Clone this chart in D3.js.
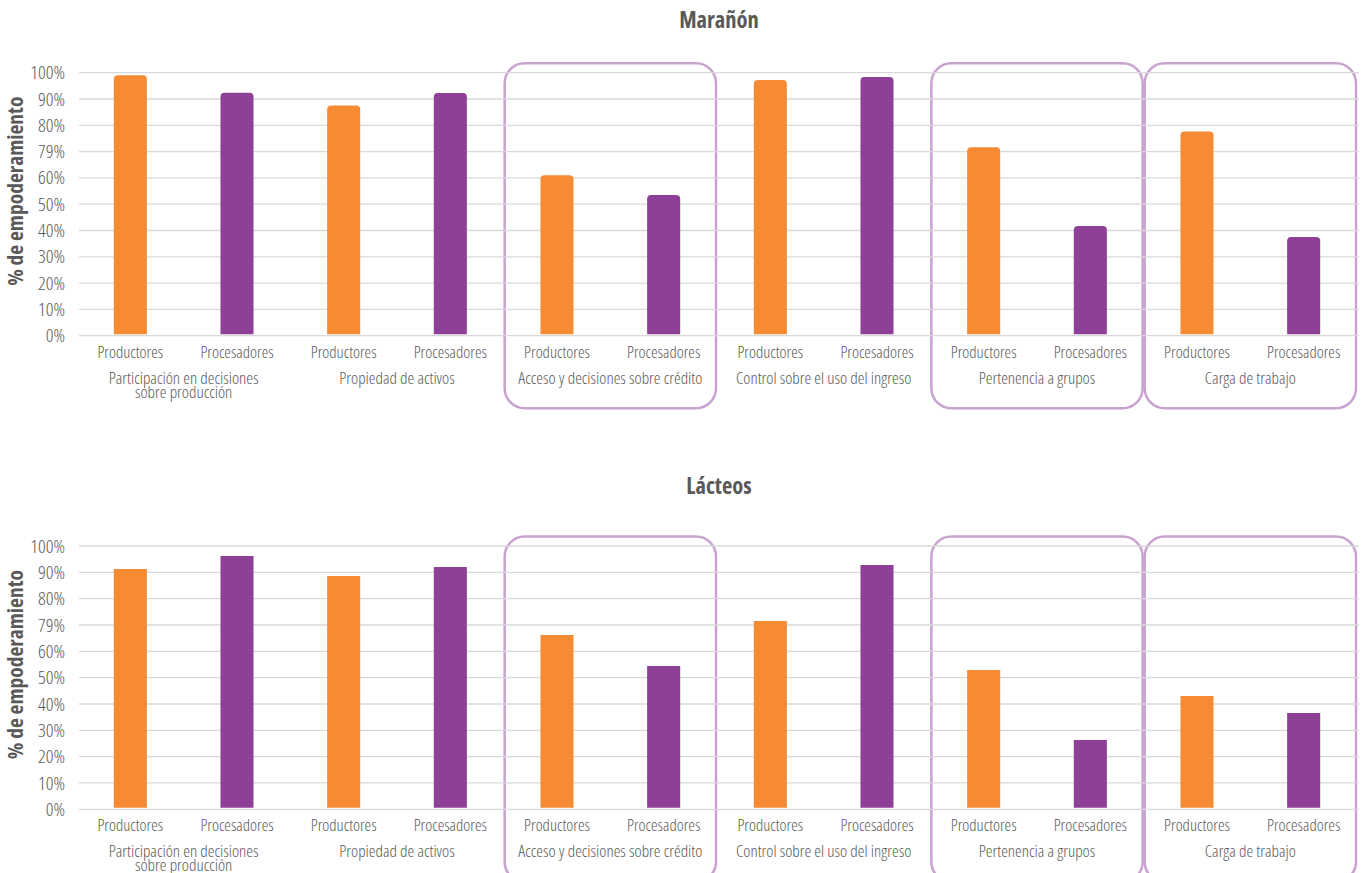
<!DOCTYPE html>
<html>
<head>
<meta charset="utf-8">
<script src="https://cdn.jsdelivr.net/npm/d3@7"></script>
<style>
  html, body { margin: 0; padding: 0; background: #fff; }
  svg { display: block; }
  text { font-family: 'Open Sans', sans-serif; font-stretch: 75%; }
</style>
</head>
<body>
<svg id="chart" width="1364" height="873"></svg>
<script>
// ---- Data ----
const groups = [
  ["Participación en decisiones", "sobre producción"],
  ["Propiedad de activos"],
  ["Acceso y decisiones sobre crédito"],
  ["Control sobre el uso del ingreso"],
  ["Pertenencia a grupos"],
  ["Carga de trabajo"]
];
const subCategories = ["Productores", "Procesadores"];
const tickValues = [0, 10, 20, 30, 40, 50, 60, 70, 80, 90, 100];
const tickLabels = ["0%", "10%", "20%", "30%", "40%", "50%", "60%", "79%", "80%", "90%", "100%"];
const highlighted = [2, 4, 5];

const maranonProductores  = [99, 87.5, 61, 97.2, 71.7, 77.6];
const maranonProcesadores = [92.4, 92.3, 53.5, 98.4, 41.7, 37.5];
const lacteosProductores  = [91.3, 88.6, 66.2, 71.5, 52.9, 43];
const lacteosProcesadores = [96.2, 92, 54.4, 92.8, 26.3, 36.6];

const colors = { Productores: "#F68B33", Procesadores: "#8E3F96" };

// ---- Drawing ----
const svg = d3.select("#chart");

const x0 = d3.scaleBand().domain(d3.range(groups.length)).range([77, 1357]).padding(0);
const x1 = d3.scaleBand().domain(subCategories).range([0, x0.bandwidth()]).paddingInner(0.69).paddingOuter(0.345);

function drawChart(title, titleY, yTop, yBottom, prod, proc, rounded) {
  const g = svg.append("g");
  const y = d3.scaleLinear().domain([0, 100]).range([yBottom, yTop]);

  // highlight boxes
  highlighted.forEach(i => {
    g.append("rect")
      .attr("x", x0(i) + 1)
      .attr("y", yTop - 9.5)
      .attr("width", x0.bandwidth() - 2)
      .attr("height", (yBottom - yTop) + 82)
      .attr("rx", 20).attr("ry", 20)
      .attr("fill", "none")
      .attr("stroke", "#C9A2D2")
      .attr("stroke-width", 2.5);
  });

  // gridlines
  g.append("g").selectAll("line").data(tickValues).join("line")
    .attr("x1", 79).attr("x2", 1359)
    .attr("y1", d => y(d)).attr("y2", d => y(d))
    .attr("stroke", "#D9D9D9").attr("stroke-width", 1.3);

  // y axis tick labels
  const yAxis = d3.axisLeft(y).tickValues(tickValues)
    .tickFormat((d, i) => tickLabels[i]).tickSize(0).tickPadding(0);
  const ya = g.append("g").attr("transform", "translate(65,0)").call(yAxis);
  ya.select(".domain").remove();
  ya.selectAll("text")
    .attr("font-family", "'Open Sans', sans-serif")
    .style("font-stretch", "75%")
    .attr("font-weight", 300)
    .attr("font-size", 19)
    .attr("fill", "#595959");

  // y title
  g.append("text")
    .attr("transform", `translate(23,${(yTop + yBottom) / 2 - 13}) rotate(-90)`)
    .attr("text-anchor", "middle")
    .attr("font-size", 21.5).attr("font-weight", 700)
    .attr("fill", "#595959")
    .text("% de empoderamiento");

  // chart title
  g.append("text")
    .attr("x", 719).attr("y", titleY)
    .attr("text-anchor", "middle")
    .attr("font-size", 22.5).attr("font-weight", 700)
    .attr("fill", "#595959")
    .text(title);

  // bars
  const data = [];
  groups.forEach((grp, i) => {
    data.push({ gi: i, sub: "Productores", v: prod[i] });
    data.push({ gi: i, sub: "Procesadores", v: proc[i] });
  });
  const r = rounded ? 4 : 0;
  g.append("g").selectAll("path").data(data).join("path")
    .attr("d", d => {
      const xl = x0(d.gi) + x1(d.sub), w = x1.bandwidth();
      const yt = y(d.v), yb = y(0) - 1.5;
      return `M${xl},${yb} L${xl},${yt + r} Q${xl},${yt} ${xl + r},${yt} L${xl + w - r},${yt} Q${xl + w},${yt} ${xl + w},${yt + r} L${xl + w},${yb} Z`;
    })
    .attr("fill", d => colors[d.sub]);

  // sub category labels
  g.append("g").selectAll("text").data(data).join("text")
    .attr("x", d => x0(d.gi) + x1(d.sub) + x1.bandwidth() / 2)
    .attr("y", yBottom + 22)
    .attr("text-anchor", "middle")
    .attr("font-size", 16.7).attr("font-weight", 300)
    .attr("fill", "#595959")
    .text(d => d.sub);

  // group labels
  const gl = g.append("g").selectAll("text").data(groups).join("text")
    .attr("x", (d, i) => x0(i) + x0.bandwidth() / 2)
    .attr("y", yBottom + 48)
    .attr("text-anchor", "middle")
    .attr("font-size", 17).attr("font-weight", 300)
    .attr("fill", "#595959");
  gl.each(function (d, i) {
    const t = d3.select(this);
    d.forEach((line, j) => {
      t.append("tspan")
        .attr("x", x0(i) + x0.bandwidth() / 2)
        .attr("dy", j === 0 ? 0 : 14)
        .text(line);
    });
  });
}

drawChart("Marañón", 28, 72.7, 335.7, maranonProductores, maranonProcesadores, true);
drawChart("Lácteos", 494, 546, 809.3, lacteosProductores, lacteosProcesadores, false);
</script>
</body>
</html>
